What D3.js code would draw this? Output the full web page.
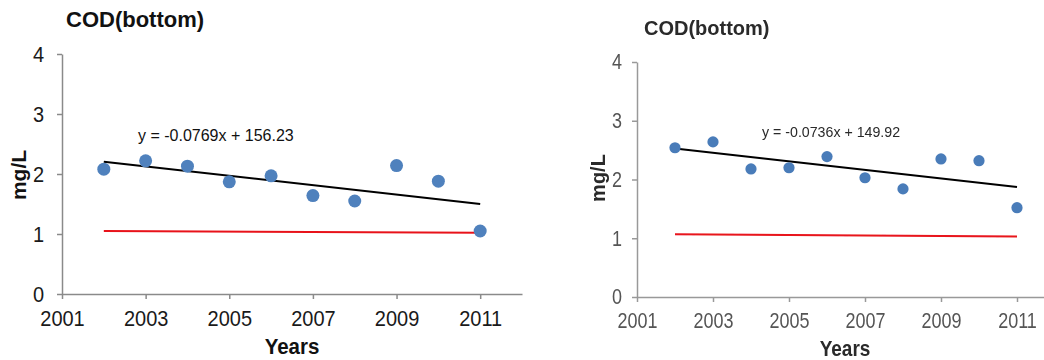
<!DOCTYPE html>
<html>
<head>
<meta charset="utf-8">
<script src="https://cdn.jsdelivr.net/npm/d3@7"></script>
<style>
  html, body { margin: 0; padding: 0; background: #fff; }
  svg { display: block; font-family: "Liberation Sans", Arial, sans-serif; }
</style>
</head>
<body>
<svg id="chart" width="1044" height="360"></svg>
<script>
// Sampling years and bottom-water COD (mg/L) at the two stations
const years = [2002, 2003, 2004, 2005, 2006, 2007, 2008, 2009, 2010, 2011];
const codLeft = [2.08, 2.22, 2.13, 1.87, 1.97, 1.64, 1.55, 2.14, 1.88, 1.05];
const codRight = [2.54, 2.64, 2.18, 2.20, 2.39, 2.03, 1.84, 2.35, 2.32, 1.52];

// Reference (red) line end points
const limitYears = [2002, 2011];
const limitLeft = [1.05, 1.02];
const limitRight = [1.07, 1.03];

// Axis ticks and labels
const xTicks = [2001, 2003, 2005, 2007, 2009, 2011];
const yTicks = [0, 1, 2, 3, 4];
const xDomain = [2001, 2012];
const yDomain = [0, 4];
const titles = ["COD(bottom)", "COD(bottom)"];
const equations = ["y = -0.0769x + 156.23", "y = -0.0736x + 149.92"];
const xLabel = "Years";
const yLabel = "mg/L";

const svg = d3.select("#chart");

svg.append("defs").append("filter").attr("id", "soft")
  .attr("x", "-5%").attr("y", "-5%").attr("width", "110%").attr("height", "110%")
  .append("feGaussianBlur").attr("stdDeviation", 0.55);

// Least-squares fit of values over years
function fit(xs, ys) {
  const mx = d3.mean(xs), my = d3.mean(ys);
  const sxy = d3.sum(xs, (x, i) => (x - mx) * (ys[i] - my));
  const sxx = d3.sum(xs, x => (x - mx) * (x - mx));
  const slope = sxy / sxx;
  return x => my + slope * (x - mx);
}

const panels = [
  {
    values: codLeft, limit: limitLeft, title: titles[0], eq: equations[0],
    xr: [62, 522], yr: [294, 54],
    tickFont: 20, tickColor: "#1a1a1a", axisColor: "#8a8a8a", stretch: 1.1,
    yPad: 13, xPad: 11, r: 6.5, dot: "#4f81bd",
    titlePos: [66, 27, 22], eqPos: [138, 141, 16],
    xlabPos: [292, 354, 20.5], ylabPos: [26, 175, 21],
    soft: false, textColor: "#111"
  },
  {
    values: codRight, limit: limitRight, title: titles[1], eq: equations[1],
    xr: [637, 1055], yr: [297, 62],
    tickFont: 18, tickColor: "#555", axisColor: "#999", stretch: 1.2,
    yPad: 10, xPad: 11, r: 5.6, dot: "#4a7cb9",
    titlePos: [644, 35, 20], eqPos: [762, 137, 14.2],
    xlabPos: [845, 356, 19], ylabPos: [605, 178, 20],
    soft: true, textColor: "#2a2a2a"
  }
];

panels.forEach(p => {
  const g = svg.append("g");
  if (p.soft) g.attr("filter", "url(#soft)");

  const x = d3.scaleLinear().domain(xDomain).range(p.xr);
  const y = d3.scaleLinear().domain(yDomain).range(p.yr);
  const k = p.stretch;

  // y axis
  const ya = g.append("g")
    .attr("transform", `translate(${p.xr[0]},0)`)
    .call(d3.axisLeft(y).tickValues(yTicks).tickSize(5).tickSizeOuter(0)
      .tickPadding(p.yPad).tickFormat(d3.format("d")));
  // x axis
  const xa = g.append("g")
    .attr("transform", `translate(0,${p.yr[0]})`)
    .call(d3.axisBottom(x).tickValues(xTicks).tickSize(5).tickSizeOuter(0)
      .tickPadding(p.xPad).tickFormat(d3.format("d")));

  [ya, xa].forEach(a => {
    a.select(".domain").attr("stroke", p.axisColor).attr("stroke-width", 1.5);
    a.selectAll(".tick line").attr("stroke", p.axisColor).attr("stroke-width", 1.5);
    a.selectAll(".tick text")
      .attr("font-family", "Liberation Sans, Arial, sans-serif")
      .attr("font-size", p.tickFont).attr("fill", p.tickColor)
      .attr("transform", `scale(1,${k})`);
  });
  // keep x tick labels at the same offset below the axis after stretching
  xa.selectAll(".tick text").attr("y", (5 + p.xPad) / k);

  // red reference line
  g.append("line")
    .attr("x1", x(limitYears[0])).attr("y1", y(p.limit[0]))
    .attr("x2", x(limitYears[1])).attr("y2", y(p.limit[1]))
    .attr("stroke", "#e8121a").attr("stroke-width", 2);

  // linear trendline
  const f = fit(years, p.values);
  const x0 = d3.min(years), x1 = d3.max(years);
  g.append("line")
    .attr("x1", x(x0)).attr("y1", y(f(x0)))
    .attr("x2", x(x1)).attr("y2", y(f(x1)))
    .attr("stroke", "#000").attr("stroke-width", 2);

  // observed values
  g.selectAll("circle.pt").data(years).join("circle")
    .attr("class", "pt")
    .attr("cx", d => x(d))
    .attr("cy", (d, i) => y(p.values[i]))
    .attr("r", p.r)
    .attr("fill", p.dot);

  // trend equation
  g.append("text")
    .attr("x", p.eqPos[0]).attr("y", p.eqPos[1])
    .attr("font-size", p.eqPos[2]).attr("fill", p.textColor)
    .text(p.eq);

  // title
  g.append("text")
    .attr("x", p.titlePos[0]).attr("y", p.titlePos[1])
    .attr("font-size", p.titlePos[2]).attr("font-weight", "bold")
    .attr("fill", p.textColor)
    .text(p.title);

  // axis titles
  g.append("text")
    .attr("transform", `translate(${p.xlabPos[0]},${p.xlabPos[1]}) scale(1,${k})`)
    .attr("text-anchor", "middle")
    .attr("font-size", p.xlabPos[2]).attr("font-weight", "bold")
    .attr("fill", p.textColor)
    .text(xLabel);

  g.append("text")
    .attr("transform", `translate(${p.ylabPos[0]},${p.ylabPos[1]}) rotate(-90)`)
    .attr("text-anchor", "middle")
    .attr("font-size", p.ylabPos[2]).attr("font-weight", "bold")
    .attr("fill", p.textColor)
    .text(yLabel);
});
</script>
</body>
</html>
